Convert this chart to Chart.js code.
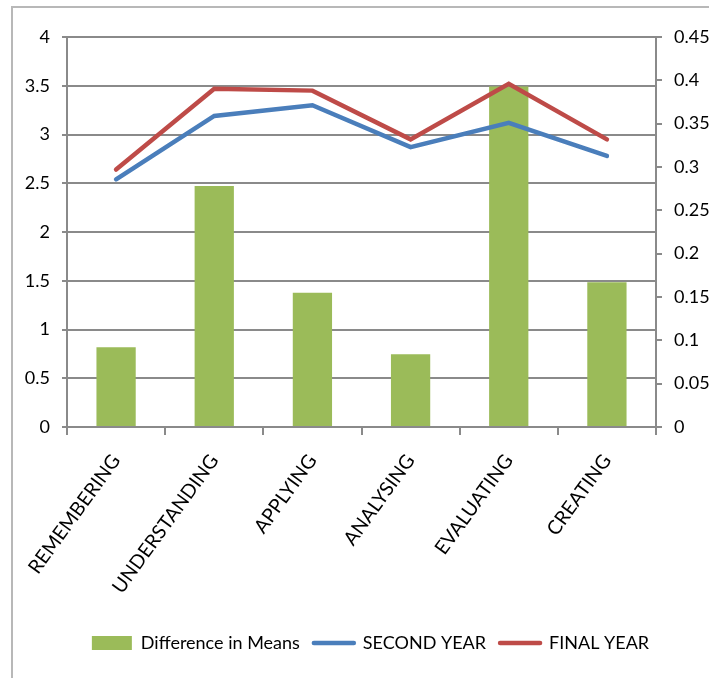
<!DOCTYPE html>
<html>
<head>
<meta charset="utf-8">
<title>Difference in Means by Level</title>
<style>
  html, body { margin: 0; padding: 0; background: #ffffff; overflow: hidden; }
  #wrap { position: relative; width: 709px; height: 678px; overflow: hidden; }
  #frame { position: absolute; left: 11px; top: 6px; width: 760px; height: 720px;
           border-left: 2px solid #b8b8b8; border-top: 2px solid #b8b8b8; }
  #chart { position: absolute; left: 0; top: 0; }
</style>
<script src="https://cdn.jsdelivr.net/npm/chart.js@4/dist/chart.umd.min.js"></script>
</head>
<body>
<div id="wrap">
  <div id="frame"></div>
  <canvas id="chart" width="709" height="678"></canvas>
</div>
<script>
// Cognitive levels on the category axis
const categories = ['REMEMBERING', 'UNDERSTANDING', 'APPLYING', 'ANALYSING', 'EVALUATING', 'CREATING'];

// Bars (right axis): gap between final-year and second-year means
const differenceInMeans = [0.092, 0.278, 0.155, 0.084, 0.393, 0.167];

// Lines (left axis): mean scores per year group
const secondYear = [2.54, 3.19, 3.30, 2.87, 3.12, 2.78];
const finalYear  = [2.64, 3.47, 3.45, 2.95, 3.52, 2.95];

// Tick values for both value axes
const leftTickValues  = [0, 0.5, 1, 1.5, 2, 2.5, 3, 3.5, 4];
const rightTickValues = [0, 0.05, 0.1, 0.15, 0.2, 0.25, 0.3, 0.35, 0.4, 0.45];

const FONT = "Lato, 'Liberation Sans', Arial, sans-serif";
const FONT_SIZE = 18;
const AXIS_GREY = '#8a8a8a';
const GREEN = '#9bbb59';
const BLUE = '#4a7ebb';
const RED = '#be4b48';

new Chart(document.getElementById('chart'), {
  data: {
    labels: categories,
    datasets: [
      {
        type: 'bar',
        label: 'Difference in Means',
        data: differenceInMeans,
        yAxisID: 'y1',
        backgroundColor: GREEN,
        borderWidth: 0,
        barPercentage: 0.4,
        categoryPercentage: 1.0,
        order: 3
      },
      {
        type: 'line',
        label: 'SECOND YEAR',
        data: secondYear,
        yAxisID: 'y',
        borderColor: BLUE,
        backgroundColor: BLUE,
        borderWidth: 4.5,
        borderCapStyle: 'round',
        pointRadius: 0,
        tension: 0,
        fill: false,
        order: 2
      },
      {
        type: 'line',
        label: 'FINAL YEAR',
        data: finalYear,
        yAxisID: 'y',
        borderColor: RED,
        backgroundColor: RED,
        borderWidth: 4.5,
        borderCapStyle: 'round',
        pointRadius: 0,
        tension: 0,
        fill: false,
        order: 1
      }
    ]
  },
  options: {
    responsive: false,
    animation: false,
    devicePixelRatio: 1,
    // negative right padding lets the legend centre sit a little right of the canvas middle
    layout: { padding: { left: 0, right: -32, top: 37, bottom: 16 } },
    plugins: {
      tooltip: { enabled: false },
      legend: {
        position: 'bottom',
        labels: {
          usePointStyle: true,
          pointStyleWidth: 40,
          boxHeight: 14,
          padding: 14,
          color: '#000000',
          font: { family: FONT, size: FONT_SIZE },
          sort: (a, b) => a.datasetIndex - b.datasetIndex,
          generateLabels: (chart) => {
            const items = Chart.defaults.plugins.legend.labels.generateLabels(chart);
            items.forEach((it) => {
              const ds = chart.data.datasets[it.datasetIndex];
              if (ds.type === 'bar') {
                it.pointStyle = 'rect';
                it.fillStyle = ds.backgroundColor;
                it.lineWidth = 0;
              } else {
                it.pointStyle = 'line';
                it.strokeStyle = ds.borderColor;
                it.lineWidth = 4.5;
                it.lineCap = 'round';
              }
            });
            return items;
          }
        }
      }
    },
    scales: {
      x: {
        offset: true,
        grid: { offset: true, drawOnChartArea: false, drawTicks: true, tickLength: 8, color: AXIS_GREY, lineWidth: 2 },
        border: { display: true, color: AXIS_GREY, width: 2 },
        ticks: {
          autoSkip: false, minRotation: 54, maxRotation: 54, padding: 15,
          color: '#000000', font: { family: FONT, size: 19.5 }
        },
        afterFit: (s) => { s.height = 193; }
      },
      y: {
        position: 'left',
        min: 0, max: 4,
        grid: { color: AXIS_GREY, lineWidth: 2, drawTicks: true, tickLength: 5 },
        border: { display: true, color: AXIS_GREY, width: 2 },
        ticks: {
          padding: 12, color: '#000000', font: { family: FONT, size: FONT_SIZE },
          callback: (v) => String(v)
        },
        afterBuildTicks: (s) => { s.ticks = leftTickValues.map((v) => ({ value: v })); },
        afterFit: (s) => { s.width = 67; }
      },
      y1: {
        position: 'right',
        min: 0, max: 0.45,
        grid: { drawOnChartArea: false, drawTicks: true, tickLength: 6, color: AXIS_GREY, lineWidth: 2 },
        border: { display: true, color: AXIS_GREY, width: 2 },
        ticks: {
          padding: 12, color: '#000000', font: { family: FONT, size: FONT_SIZE },
          callback: (v) => String(v)
        },
        afterBuildTicks: (s) => { s.ticks = rightTickValues.map((v) => ({ value: v })); },
        afterFit: (s) => { s.width = 85; }
      }
    }
  }
});
</script>
</body>
</html>
